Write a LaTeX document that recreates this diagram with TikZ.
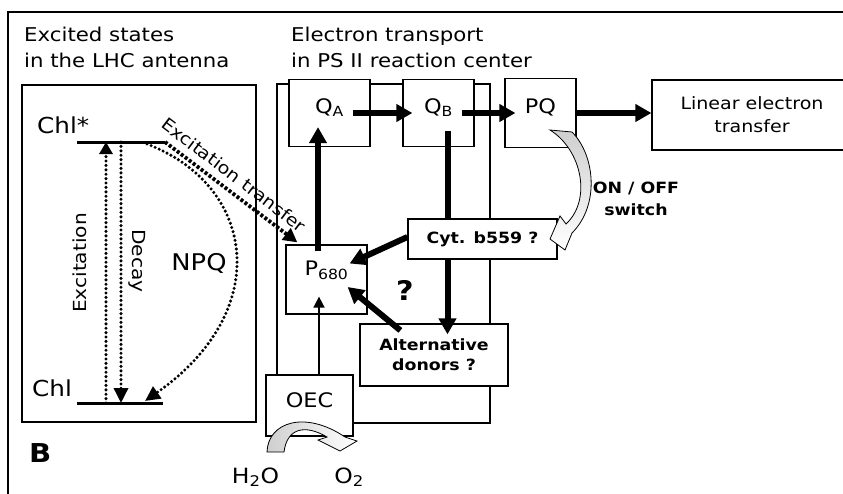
\documentclass[tikz,border=0pt]{standalone}
\usepackage{fontspec}
\setmainfont{DejaVu Sans}[FakeStretch=1.12]
\usetikzlibrary{arrows.meta}

\begin{document}
\begin{tikzpicture}[x=1pt,y=-1pt,
  panel/.style={draw,line width=1.2pt,inner sep=0pt},
  box/.style={panel,fill=white,font=\fontsize{20}{24}\selectfont,text height=14.6pt,text depth=14pt},
  boldbox/.style={panel,fill=white,align=center,font=\fontsize{15.5}{20}\selectfont\bfseries},
  flow/.style={line width=6pt,-{Triangle[length=16pt,width=17pt]}},
  feed/.style={line width=1.6pt,-{Triangle[length=11pt,width=11pt]}},
  level/.style={line width=3pt},
  relax/.style={line width=3.4pt,line cap=round,dash pattern=on 0pt off 4.4pt,-{Triangle[length=15pt,width=14pt]}},
  transfer/.style={line width=3.8pt,dash pattern=on 3pt off 2pt,-{Triangle[length=14pt,width=14pt]}},
  hollowarrow/.style={draw=black,line width=0.8pt}]
\useasboundingbox (0,0) rectangle (843,493);
\clip (0,0) rectangle (843,493);
\draw[line width=1.2pt] (8,12) rectangle (880,530);
% titles
\node[anchor=north west,inner sep=0pt,align=left,font=\fontsize{19}{26}\selectfont] (lhctitle) at (24,27) {Excited states\\in the LHC antenna};
\node[anchor=north west,inner sep=0pt,align=left,font=\fontsize{19}{26}\selectfont] (rctitle) at (291,27) {Electron transport\\in PS II reaction center};
% frames
\node[panel,minimum width=234pt,minimum height=337pt] (lhc) at (139,253.5) {};
\node[panel,minimum width=213pt,minimum height=339pt] (psii) at (383.5,253.5) {};
% carriers
\node[box,minimum width=81pt,minimum height=67pt] (qa) at (329.5,113) {Q\textsubscript{A}};
\node[box,minimum width=71pt,minimum height=67pt] (qb) at (438.5,113) {Q\textsubscript{B}};
\node[box,minimum width=71pt,minimum height=69pt] (pq) at (540.5,113) {PQ};
\node[panel,fill=white,minimum width=200pt,minimum height=70pt,align=center,font=\fontsize{17}{23}\selectfont] (linear) at (752,115) {Linear electron\\transfer};
\node[box,minimum width=81pt,minimum height=69pt,text depth=22pt] (p680) at (326.5,279.5) {P\textsubscript{680}};
\node[box,minimum width=87pt,minimum height=61pt,text depth=11pt] (oec) at (309.5,405.5) {OEC};
\node[boldbox,minimum width=148pt,minimum height=62pt] (alt) at (434,355) {Alternative\\donors ?};
\draw[flow] ([xshift=9pt,yshift=16pt]qb.south) -- ([xshift=13.5pt,yshift=-11pt]alt.north);
\node[boldbox,minimum width=149pt,minimum height=40pt] (cyt) at (482.5,239) {Cyt. b559 ?};
% electron flow
\draw[flow] ([xshift=-18pt]qa.east) -- ([xshift=10pt]qb.west);
\draw[flow] ([xshift=-13pt]qb.east) -- ([xshift=11pt]pq.west);
\draw[flow] (pq.east) -- (linear.west |- pq.east);
\draw[flow] ([xshift=-8.5pt,yshift=-7pt]p680.north) -- ([xshift=-11.5pt,yshift=20pt]qa.south);
\draw[flow] ([yshift=2pt]cyt.west) -- ([xshift=-18pt,yshift=16pt]p680.east);
\draw[flow] ([xshift=41pt,yshift=-7pt]alt.north west) -- ([xshift=-20pt,yshift=-7.5pt]p680.east);
\draw[feed] ([xshift=9.5pt]oec.north) -- ([xshift=-7.5pt,yshift=18pt]p680.south);
% energy levels
\coordinate (upL) at (77,142);
\coordinate (upR) at (165,142);
\coordinate (loL) at (77,403);
\coordinate (loR) at (163,403);
\draw[level] (upL) -- (upR);
\draw[level] (loL) -- (loR);
\draw[relax,-{Triangle[length=12pt,width=13pt]}] ([xshift=29pt]loL) -- ([xshift=29pt]upL);
\draw[relax] ([xshift=44pt]upL) -- ([xshift=44pt]loL);
\draw[relax] ([xshift=70pt,yshift=-2pt]upL) .. controls (255,185) and (275,310) .. ([xshift=68pt,yshift=2pt]loL);
\draw[transfer] (upR) -- node[sloped,above,pos=0.45,inner sep=7pt,font=\fontsize{17}{20}\selectfont] (transferlabel) {Excitation transfer} ([xshift=12pt,yshift=2pt]p680.north west);
% switch and water splitting
\draw[hollowarrow,top color=gray!38,bottom color=white] (550,130) .. controls (582,150) and (592,200) .. (566,224) -- (560,216) -- (550,239) -- (565,250) -- (572,233) .. controls (600,205) and (595,155) .. (572,132) -- cycle;
\draw[hollowarrow,left color=gray!38,right color=white] (267,452) .. controls (268,422) and (305,410) .. (345,437) -- (357,441) -- (340,451) -- (318,440) -- (327,437) .. controls (305,424) and (287,428) .. (284,452) -- cycle;
% labels
\node[anchor=base west,inner sep=0pt,font=\fontsize{22}{22}\selectfont] (chlstar) at (37,133) {Chl*};
\node[anchor=base west,inner sep=0pt,font=\fontsize{22}{22}\selectfont] (chl) at (32,396) {Chl};
\node[rotate=90,font=\fontsize{18}{18}\selectfont] (exclabel) at (80,263) {Excitation};
\node[rotate=-90,font=\fontsize{18}{18}\selectfont] (decaylabel) at (137,261) {Decay};
\node[font=\fontsize{23}{23}\selectfont] (npq) at (199,263) {NPQ};
\node[font=\fontsize{27}{27}\selectfont\bfseries] (unknown) at (405,290) {?};
\node[align=center,font=\fontsize{15.5}{22}\selectfont\bfseries] (switchlabel) at (636,199) {ON / OFF\\switch};
\node[anchor=base,inner sep=0pt,font=\fontsize{21}{21}\selectfont] (water) at (255.5,483) {H\textsubscript{2}O};
\node[anchor=base,inner sep=0pt,font=\fontsize{21}{21}\selectfont] (oxygen) at (349,483) {O\textsubscript{2}};
\node[anchor=base west,inner sep=0pt,font=\fontsize{26}{26}\selectfont\bfseries] (panelB) at (29,462) {B};
\end{tikzpicture}
\end{document}
